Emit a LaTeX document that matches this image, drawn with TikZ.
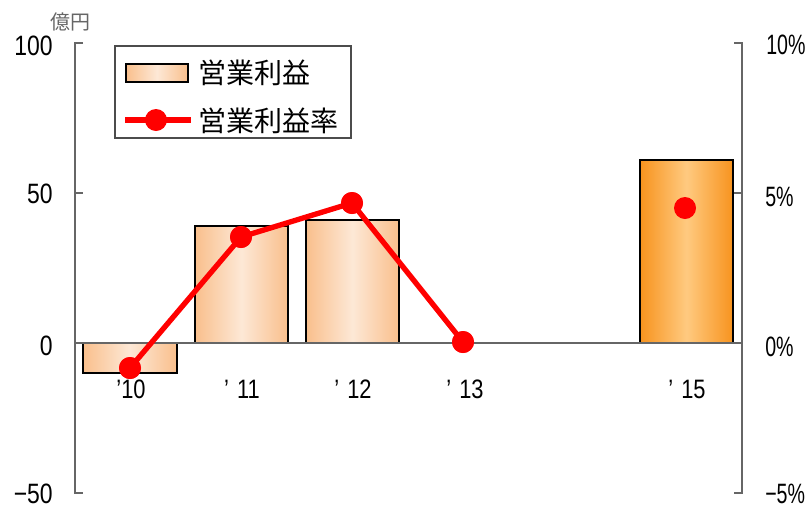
\documentclass[tikz,border=0pt]{standalone}
\usepackage{fontspec}
\setmainfont{Liberation Sans}[FakeStretch=0.82]
\newfontfamily\pctfont{Liberation Sans}[FakeStretch=0.7]
\newfontfamily\cjk{Noto Sans CJK JP}
\begin{document}
\begin{tikzpicture}[x=0.75pt,y=-0.75pt,
  axisline/.style={draw=black!60,line width=1pt},
  barbox/.style={draw=black,line width=1.7pt},
  lightbar/.style={barbox,left color=peachE,right color=peachE,middle color=peachM},
  darkbar/.style={barbox,left color=orangeE,right color=orangeE,middle color=orangeM},
  rateline/.style={draw=red,line width=4pt},
  dot/.style={circle,fill=red,inner sep=0pt,minimum size=22pt*0.75},
  ylab/.style={font=\fontsize{21}{21}\selectfont,inner sep=0pt},
  plab/.style={font=\pctfont\fontsize{21}{21}\selectfont,inner sep=0pt,anchor=west},
  xlab/.style={font=\fontsize{20}{20}\selectfont,inner sep=0pt},
  legtext/.style={font=\cjk\fontsize{21}{21}\selectfont,inner sep=0pt,anchor=west}]
\definecolor{peachE}{HTML}{F9BF8C}
\definecolor{peachM}{HTML}{FDE8D6}
\definecolor{orangeE}{HTML}{F7931E}
\definecolor{orangeM}{HTML}{FFCA80}
\useasboundingbox (0,0) rectangle (810,508);
% axes
\coordinate (L100) at (75,43); \coordinate (L0) at (75,343); \coordinate (Lm50) at (75,493);
\coordinate (R100) at (742,43); \coordinate (R0) at (742,343); \coordinate (Rm50) at (742,493);
\draw[axisline] (83,43) -- (L100) -- (Lm50) -- (83,493);
\draw[axisline] (75,193) -- (83,193);
\draw[axisline] (734,43) -- (R100) -- (Rm50) -- (734,493);
\draw[axisline] (742,193) -- (734,193);
% bars
\path[lightbar] (83,343) rectangle (177,373);
\path[lightbar] (195,343) rectangle (288,226);
\path[lightbar] (306,343) rectangle (399,220);
\path[darkbar] (640,343) rectangle (733,160);
\draw[axisline] (L0) -- (R0);
% axis labels
\node[ylab,anchor=east] (y100) at (53,46) {100};
\node[ylab,anchor=east] (y50) at (53,194) {50};
\node[ylab,anchor=east] (y0) at (53,346) {0};
\node[ylab,anchor=east] (ym50) at (53,494) {−50};
\node[plab] (r10) at (766,45) {10\%};
\node[plab] (r5) at (765,197) {5\%};
\node[plab] (r0) at (765,347) {0\%};
\node[plab] (rm5) at (765,494) {−5\%};
\node[font=\cjk\fontsize{15}{15}\selectfont,text=black!60,inner sep=0pt] (unit) at (70,22) {億円};
% category labels
\node[xlab] (c10) at (131,389) {’10};
\node[xlab] (c11) at (242,389) {’\hspace{0.3em}11};
\node[xlab] (c12) at (353,389) {’\hspace{0.3em}12};
\node[xlab] (c13) at (465,389) {’\hspace{0.3em}13};
\node[xlab] (c15) at (687,389) {’\hspace{0.3em}15};
% rate line
\node[dot] (p10) at (130,368) {};
\node[dot] (p11) at (241,237) {};
\node[dot] (p12) at (352,203) {};
\node[dot] (p13) at (463,342) {};
\node[dot] (p15) at (685,208) {};
\draw[rateline] (p10.center) -- (p11.center) -- (p12.center) -- (p13.center);
\foreach \p in {p10,p11,p12,p13} \fill[red] (\p) circle (11);
% legend
\draw[black!70,line width=0.8pt,fill=white] (115,46) rectangle (351,138);
\path[lightbar] (126,64) rectangle (188,82);
\node[legtext] (leg1) at (198,73) {営業利益};
\coordinate (la) at (125,120); \coordinate (lb) at (191,120);
\draw[rateline] (la) -- (lb);
\node[dot] (ldot) at (156,120) {};
\node[legtext] (leg2) at (198,121) {営業利益率};
\end{tikzpicture}
\end{document}
